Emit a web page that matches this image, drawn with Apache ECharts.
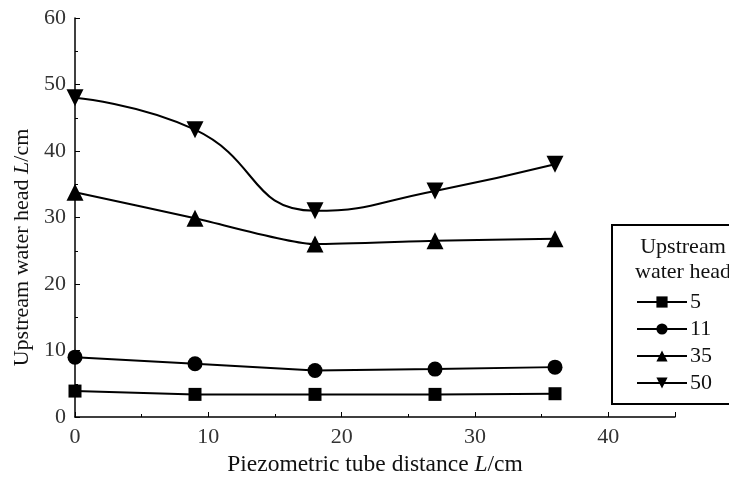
<!DOCTYPE html>
<html>
<head>
<meta charset="utf-8">
<script src="https://cdn.jsdelivr.net/npm/echarts@6/dist/echarts.min.js"></script>
<style>html,body{margin:0;padding:0;background:#fff}#c{width:729px;height:477px}</style>
</head>
<body>
<div id="c"></div>
<script>
var xValues = [0, 9, 18, 27, 36];
var seriesNames = ['5', '11', '35', '50'];
var head5 = [3.9, 3.4, 3.4, 3.4, 3.5];
var head11 = [9.0, 8.0, 7.0, 7.2, 7.5];
var head35 = [33.8, 29.9, 26.0, 26.5, 26.8];
var head50 = [48.0, 43.2, 31.0, 34.0, 38.0];
var xTicks = [0, 10, 20, 30, 40];
var yTicks = [0, 10, 20, 30, 40, 50, 60];

function pairs(vals) { return xValues.map(function (x, i) { return [x, vals[i]]; }); }

var FONT = 'Liberation Serif';
var chart = echarts.init(document.getElementById('c'));
var common = {
  type: 'line', color: '#000', clip: false,
  lineStyle: { color: '#000', width: 2 },
  itemStyle: { color: '#000' }
};
chart.setOption({
  animation: false,
  backgroundColor: '#fff',
  textStyle: { fontFamily: FONT },
  grid: { left: 75, right: 54, top: 18, bottom: 60, outerBoundsMode: 'none', containLabel: false },
  title: {
    text: 'Upstream\nwater head', left: 678, top: 230, textAlign: 'center',
    textStyle: { fontFamily: FONT, fontSize: 22, fontWeight: 'normal', color: '#111', lineHeight: 25 }
  },
  legend: {
    left: 612, top: 225, orient: 'vertical',
    padding: [66, 40, 10, 24],
    borderColor: '#000', borderWidth: 2, backgroundColor: '#fff',
    itemGap: 5, itemWidth: 50, itemHeight: 14,
    textStyle: { fontFamily: FONT, fontSize: 22, color: '#111', padding: [0, 0, 0, -2] },
    data: seriesNames
  },
  xAxis: {
    type: 'value', min: 0, max: 45, interval: 10,
    name: 'Piezometric tube distance {i|L}/cm', nameLocation: 'middle', nameGap: 35,
    nameTextStyle: { fontFamily: FONT, fontSize: 23.5, color: '#111',
      rich: { i: { fontStyle: 'italic', fontFamily: FONT, fontSize: 23.5, color: '#111' } } },
    axisLine: { lineStyle: { color: '#000', width: 1.5 } },
    axisTick: { inside: true, length: 5, lineStyle: { color: '#000' } },
    minorTick: { show: true, splitNumber: 2, length: 3, lineStyle: { color: '#000' } },
    splitLine: { show: false },
    axisLabel: { fontFamily: FONT, fontSize: 22, color: '#333', margin: 9,
      formatter: function (v) { return xTicks.indexOf(v) >= 0 ? String(v) : ''; } }
  },
  yAxis: {
    type: 'value', min: 0, max: 60, interval: 10,
    name: 'Upstream water head {i|L}/cm', nameLocation: 'middle', nameGap: 42,
    nameTextStyle: { fontFamily: FONT, fontSize: 22, color: '#111', padding: [0, 60, 0, 0],
      rich: { i: { fontStyle: 'italic', fontFamily: FONT, fontSize: 22, color: '#111' } } },
    axisLine: { show: true, lineStyle: { color: '#000', width: 1.5 } },
    axisTick: { show: true, inside: true, length: 5, lineStyle: { color: '#000' } },
    minorTick: { show: true, splitNumber: 2, length: 3, lineStyle: { color: '#000' } },
    splitLine: { show: false },
    axisLabel: { fontFamily: FONT, fontSize: 22, color: '#333', margin: 9,
      formatter: function (v) { return yTicks.indexOf(v) >= 0 ? String(v) : ''; } }
  },
  series: [
    Object.assign({}, common, { name: seriesNames[0], data: pairs(head5), symbol: 'rect', symbolSize: 13 }),
    Object.assign({}, common, { name: seriesNames[1], data: pairs(head11), symbol: 'circle', symbolSize: 15 }),
    Object.assign({}, common, { name: seriesNames[2], data: pairs(head35), symbol: 'triangle', symbolSize: 17, smooth: 0.2 }),
    Object.assign({}, common, { name: seriesNames[3], data: pairs(head50), symbol: 'triangle', symbolRotate: 180, symbolSize: 17, smooth: 0.5 })
  ]
});
</script>
</body>
</html>
